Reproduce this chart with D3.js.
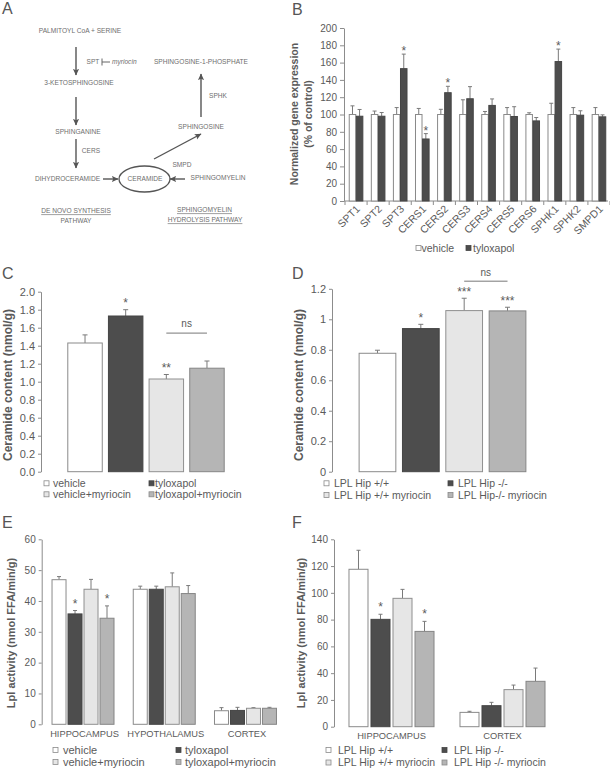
<!DOCTYPE html>
<html><head><meta charset="utf-8">
<script src="https://cdn.jsdelivr.net/npm/d3@7"></script>
<style>
body{margin:0;background:#fff;}
svg{display:block;font-family:"Liberation Sans",Arial,sans-serif;}
</style></head><body>
<svg id="fig" width="610" height="770"></svg>
<script>
// ---------------- DATA ----------------
// Panel B
const genes = ["SPT1","SPT2","SPT3","CERS1","CERS2","CERS3","CERS4","CERS5","CERS6","SPHK1","SPHK2","SMPD1"];
const geneSeries = ["vehicle","tyloxapol"];
const geneVehicle = [100,100,100,100,100,100,100,100,100,100,100,100];
const geneVehicleSem = [10,4,8,7,6,17,3.5,8,2,13,8,8];
const geneTylox = [98,98,153,71.7,125.2,118.2,110.5,97.7,92.6,161.2,99.2,97.3];
const geneTyloxSem = [7.8,4.3,16.8,6.2,7.4,14,7.5,11.3,3.9,14.4,5.1,2.3];
const geneTyloxSig = ["","","*","*","*","","","","","*","",""];
const geneTicks = [0,20,40,60,80,100,120,140,160,180,200];

// Panel C
const cGroups = ["vehicle","tyloxapol","vehicle+myriocin","tyloxapol+myriocin"];
const cMeans = [1.43,1.73,1.03,1.15];
const cSems = [0.09,0.07,0.05,0.08];
const cSig = ["","*","**",""];
const cTicks = [0,0.2,0.4,0.6,0.8,1.0,1.2,1.4,1.6,1.8,2.0];
const cNsLevel = 1.54;

// Panel D
const dGroups = ["LPL Hip +/+","LPL Hip -/-","LPL Hip +/+ myriocin","LPL Hip-/- myriocin"];
const dMeans = [0.777,0.939,1.057,1.055];
const dSems = [0.02,0.028,0.081,0.024];
const dSig = ["","*","***","***"];
const dTicks = [0,0.2,0.4,0.6,0.8,1,1.2];
const dNsLevel = 1.25;

// Panel E
const eRegions = ["HIPPOCAMPUS","HYPOTHALAMUS","CORTEX"];
const eSeries = ["vehicle","tyloxapol","vehicle+myriocin","tyloxapol+myriocin"];
const eVehicle = [46.9,43.8,4.4];         const eVehicleSem = [1.0,1.0,1.0];
const eTylox = [35.8,43.8,4.5];           const eTyloxSem = [1.1,1.0,1.0];
const eVehMyr = [43.8,44.6,5.2];          const eVehMyrSem = [3.2,4.5,0.2];
const eTyloxMyr = [34.4,42.4,5.2];        const eTyloxMyrSem = [4.0,2.6,0.3];
const eTyloxSig = ["*","",""];
const eTyloxMyrSig = ["*","",""];
const eTicks = [0,10,20,30,40,50,60];

// Panel F
const fRegions = ["HIPPOCAMPUS","CORTEX"];
const fSeries = ["LPL Hip +/+","LPL Hip -/-","LPL Hip +/+ myriocin","LPL Hip -/- myriocin"];
const fWT = [117.6,10.7];      const fWTSem = [14.2,0.8];
const fKO = [80.2,15.7];       const fKOSem = [3.8,2.5];
const fWTMyr = [95.9,27.7];    const fWTMyrSem = [6.7,3.4];
const fKOMyr = [71.2,33.9];    const fKOMyrSem = [7.5,9.9];
const fKOSig = ["*",""];
const fKOMyrSig = ["*",""];
const fTicks = [0,20,40,60,80,100,120,140];

// ---------------- STYLE ----------------
const TXT = "#5a5a5a", AX = "#8c8c8c", ERR = "#7a7a7a";
const FILLS = ["#ffffff","#4d4d4d","#e6e6e6","#b5b5b5"];
const STROKES = ["#8a8a8a","#454545","#8f8f8f","#858585"];
const FONT = '"Liberation Sans", Arial, sans-serif';
const svg = d3.select("#fig");

function yAxis(x, y, ticks, fmt, fs, ts){
  const g = svg.append("g").attr("transform",`translate(${x},0)`)
    .call(d3.axisLeft(y).tickValues(ticks).tickFormat(fmt).tickSize(ts).tickSizeOuter(0).tickPadding(3));
  g.attr("font-family",FONT).attr("font-size",fs);
  g.select(".domain").attr("stroke",AX);
  g.selectAll(".tick line").attr("stroke",AX);
  g.selectAll(".tick text").attr("fill",TXT);
  return g;
}
function yLabel(lines, x, yc, fs){
  const t = svg.append("text").attr("transform",`translate(${x},${yc}) rotate(-90)`)
    .attr("text-anchor","middle").attr("font-size",fs).attr("font-weight","bold").attr("fill",TXT);
  lines.forEach((l,i)=>t.append("tspan").attr("x",0).attr("dy",i?fs*1.3:0).text(l));
}
function panelLetter(l,x,y){
  svg.append("text").attr("x",x).attr("y",y).attr("font-size",16).attr("fill","#555").text(l);
}
function bar(x, w, y, mean, sem, i, cap, sig, starOff, starFs){
  const top = y(mean+sem);
  const cx = x + w/2;
  svg.append("line").attr("x1",cx).attr("x2",cx).attr("y1",y(mean)).attr("y2",top).attr("stroke",ERR);
  svg.append("line").attr("x1",cx-cap).attr("x2",cx+cap).attr("y1",top).attr("y2",top).attr("stroke",ERR);
  svg.append("rect").attr("x",x).attr("y",y(mean)).attr("width",w).attr("height",y(0)-y(mean))
    .attr("fill",FILLS[i]).attr("stroke",STROKES[i]).attr("stroke-width",1);
  if(sig){
    svg.append("text").attr("x",cx).attr("y",top-starOff).attr("text-anchor","middle")
      .attr("font-size",starFs).attr("fill",TXT).text(sig);
  }
}
function legend(items, colX, textX, rowY, fs){
  items.forEach((lab,i)=>{
    const c = i%2, r = Math.floor(i/2);
    svg.append("rect").attr("x",colX[c]).attr("y",rowY[r]-2.5).attr("width",5).attr("height",5)
      .attr("fill",FILLS[i]).attr("stroke",STROKES[i===1?1:0]).attr("stroke-width",0.8);
    svg.append("text").attr("x",textX[c]).attr("y",rowY[r]).attr("dy","0.36em")
      .attr("font-size",fs).attr("fill",TXT).text(lab);
  });
}

// ---------------- PANEL A ----------------
(function(){
  const g = svg.append("g").attr("font-size",6.6).attr("fill","#6e6e6e");
  const defs = svg.append("defs");
  defs.append("marker").attr("id","ah").attr("viewBox","0 0 8 8").attr("refX",7).attr("refY",4)
    .attr("markerWidth",7).attr("markerHeight",7).attr("markerUnits","userSpaceOnUse").attr("orient","auto")
    .append("path").attr("d","M0,0.5 L7.5,4 L0,7.5 L1.5,4 Z").attr("fill","#555");
  const labelsA = [
    ["PALMITOYL CoA + SERINE",80,31],["3-KETOSPHINGOSINE",79,83],["SPHINGANINE",78,132],
    ["CERS",91,151],["DIHYDROCERAMIDE",67.5,179],["CERAMIDE",145,179],["SMPD",182,165],
    ["SPHINGOMYELIN",218,178],["SPHINGOSINE",201,127],["SPHK",218,96],
    ["SPHINGOSINE-1-PHOSPHATE",201,62],["SPT",93,62]
  ];
  labelsA.forEach(([t,x,y])=>g.append("text").attr("x",x).attr("y",y).attr("dy","0.35em")
    .attr("text-anchor","middle").text(t));
  g.append("text").attr("x",112).attr("y",62).attr("dy","0.35em").attr("font-style","italic").text("myriocin");
  g.append("line").attr("x1",102).attr("x2",102).attr("y1",58.5).attr("y2",65.5).attr("stroke","#666").attr("stroke-width",1);
  g.append("line").attr("x1",102).attr("x2",110).attr("y1",62).attr("y2",62).attr("stroke","#666").attr("stroke-width",1);
  const under = [["DE NOVO SYNTHESIS",76,211,true],["PATHWAY",76,221,false],
                 ["SPHINGOMYELIN",204.5,210,true],["HYDROLYSIS PATHWAY",205,220,true]];
  under.forEach(([t,x,y,u])=>{
    const tx = g.append("text").attr("x",x).attr("y",y).attr("dy","0.35em").attr("text-anchor","middle").text(t);
    if(u){ const w = tx.node().getComputedTextLength();
      g.append("line").attr("x1",x-w/2).attr("x2",x+w/2).attr("y1",y+3.6).attr("y2",y+3.6).attr("stroke","#777").attr("stroke-width",0.7); }
  });
  const arrows = [[76,47,76,75],[76,97,76,125],[76,139,76,168],[103,179,118,179],[185,179,170,179],
                  [154,159,201,134],[201,117,201,74]];
  arrows.forEach(([x1,y1,x2,y2])=>g.append("line").attr("x1",x1).attr("y1",y1).attr("x2",x2).attr("y2",y2)
    .attr("stroke","#555").attr("stroke-width",1.4).attr("marker-end","url(#ah)"));
  g.append("ellipse").attr("cx",144.5).attr("cy",179).attr("rx",25.5).attr("ry",13)
    .attr("fill","none").attr("stroke","#555").attr("stroke-width",1.3);
  panelLetter("A",2,14);
})();

// ---------------- PANEL B ----------------
(function(){
  const y = d3.scaleLinear().domain([0,200]).range([201,28]);
  const x = d3.scaleBand().domain(genes).range([345,610]).paddingInner(0.384).paddingOuter(0.192);
  const xi = d3.scaleBand().domain(geneSeries).range([0,x.bandwidth()]).paddingInner(0.08);
  yAxis(344, y, geneTicks, d3.format("d"), 10, 4);
  // x baseline + ticks between categories
  svg.append("line").attr("x1",344).attr("x2",608).attr("y1",y(0)).attr("y2",y(0)).attr("stroke",AX);
  const half = (x.step()-x.bandwidth())/2;
  genes.concat(["__end"]).forEach((gname,i)=>{
    const bx = i<genes.length ? x(gname)-half : x(genes[genes.length-1])+x.bandwidth()+half;
    svg.append("line").attr("x1",bx).attr("x2",bx).attr("y1",y(0)).attr("y2",y(0)+4).attr("stroke",AX);
  });
  genes.forEach((gname,k)=>{
    bar(x(gname)+xi("vehicle"), xi.bandwidth(), y, geneVehicle[k], geneVehicleSem[k], 0, 2, "", 0, 12);
    bar(x(gname)+xi("tyloxapol"), xi.bandwidth(), y, geneTylox[k], geneTyloxSem[k], 1, 2, geneTyloxSig[k], -1, 12);
    const cx = x(gname)+x.bandwidth()/2;
    svg.append("text").attr("transform",`translate(${cx+2},${y(0)+6}) rotate(-45)`)
      .attr("text-anchor","end").attr("dy","0.35em").attr("font-size",10.5).attr("fill",TXT).text(gname);
  });
  yLabel(["Normalized gene expression","(% of control)"], 298, 114, 10.5);
  // legend
  svg.append("rect").attr("x",416).attr("y",245.5).attr("width",5).attr("height",5).attr("fill","#fff").attr("stroke","#888").attr("stroke-width",0.8);
  svg.append("text").attr("x",421.5).attr("y",248).attr("dy","0.36em").attr("font-size",10.5).attr("fill",TXT).text("vehicle");
  svg.append("rect").attr("x",466).attr("y",245.5).attr("width",5).attr("height",5).attr("fill",FILLS[1]).attr("stroke",STROKES[1]).attr("stroke-width",0.8);
  svg.append("text").attr("x",473).attr("y",248).attr("dy","0.36em").attr("font-size",10.5).attr("fill",TXT).text("tyloxapol");
  panelLetter("B",292,15);
})();

// ---------------- PANEL C ----------------
(function(){
  const y = d3.scaleLinear().domain([0,2]).range([471.7,291.7]);
  const x = d3.scaleBand().domain(cGroups).range([64.7,227.3]).paddingInner(0.152).paddingOuter(0.076);
  yAxis(41, y, cTicks, d3.format(".1f"), 11, 3);
  cGroups.forEach((gname,i)=>bar(x(gname), x.bandwidth(), y, cMeans[i], cSems[i], i, 2.5, cSig[i], 3, 12));
  const x1 = x(cGroups[2])+x.bandwidth()/2, x2 = x(cGroups[3])+x.bandwidth()/2;
  svg.append("line").attr("x1",x1).attr("x2",x2).attr("y1",y(cNsLevel)).attr("y2",y(cNsLevel)).attr("stroke","#777");
  svg.append("text").attr("x",(x1+x2)/2).attr("y",y(cNsLevel)-6).attr("text-anchor","middle").attr("font-size",10).attr("fill",TXT).text("ns");
  yLabel(["Ceramide content (nmol/g)"], 12, 385, 12);
  legend(cGroups, [44,149], [53,155], [483.3,494.3], 10.5);
  panelLetter("C",2,279);
})();

// ---------------- PANEL D ----------------
(function(){
  const y = d3.scaleLinear().domain([0,1.2]).range([471.7,288.8]);
  const x = d3.scaleBand().domain(dGroups).range([355.8,529.2]).paddingInner(0.153).paddingOuter(0.0765);
  yAxis(332, y, dTicks, d3.format(".1~f"), 11, 3);
  dGroups.forEach((gname,i)=>bar(x(gname), x.bandwidth(), y, dMeans[i], dSems[i], i, 2.5, dSig[i], 2, 12));
  const x1 = x(dGroups[2])+x.bandwidth()/2, x2 = x(dGroups[3])+x.bandwidth()/2;
  svg.append("line").attr("x1",x1).attr("x2",x2).attr("y1",y(dNsLevel)).attr("y2",y(dNsLevel)).attr("stroke","#777");
  svg.append("text").attr("x",(x1+x2)/2).attr("y",y(dNsLevel)-5).attr("text-anchor","middle").attr("font-size",10).attr("fill",TXT).text("ns");
  yLabel(["Ceramide content (nmol/g)"], 303, 385, 12);
  legend(dGroups, [324,448], [334,458], [483.3,495], 10.5);
  panelLetter("D",292,279);
})();

// ---------------- PANEL E ----------------
(function(){
  const y = d3.scaleLinear().domain([0,60]).range([724.3,539.3]);
  const x = d3.scaleBand().domain(eRegions).range([42.4,286.1]).paddingInner(0.237).paddingOuter(0.1185);
  const xi = d3.scaleBand().domain(eSeries).range([0,x.bandwidth()]).paddingInner(0.125);
  yAxis(41.7, y, eTicks, d3.format("d"), 10, 3);
  const vals = [eVehicle,eTylox,eVehMyr,eTyloxMyr], sems = [eVehicleSem,eTyloxSem,eVehMyrSem,eTyloxMyrSem];
  const sigs = [["","",""],eTyloxSig,["","",""],eTyloxMyrSig];
  eRegions.forEach((r,k)=>{
    eSeries.forEach((s,i)=>bar(x(r)+xi(s), xi.bandwidth(), y, vals[i][k], sems[i][k], i, 2, sigs[i][k], 3, 12));
    svg.append("text").attr("x",x(r)+x.bandwidth()/2+1.5).attr("y",734).attr("dy","0.36em")
      .attr("text-anchor","middle").attr("font-size",9.3).attr("fill",TXT).text(r);
  });
  yLabel(["Lpl activity (nmol FFA/min/g)"], 15, 633, 11);
  legend(eSeries, [53,176], [63,185], [750,762], 11);
  panelLetter("E",2,528);
})();

// ---------------- PANEL F ----------------
(function(){
  const y = d3.scaleLinear().domain([0,140]).range([726.7,539.3]);
  const x = d3.scaleBand().domain(fRegions).range([336,558]).paddingInner(0.234).paddingOuter(0.117);
  const xi = d3.scaleBand().domain(fSeries).range([0,x.bandwidth()]).paddingInner(0.136);
  yAxis(334, y, fTicks, d3.format("d"), 10, 3);
  const vals = [fWT,fKO,fWTMyr,fKOMyr], sems = [fWTSem,fKOSem,fWTMyrSem,fKOMyrSem];
  const sigs = [["",""],fKOSig,["",""],fKOMyrSig];
  fRegions.forEach((r,k)=>{
    fSeries.forEach((s,i)=>bar(x(r)+xi(s), xi.bandwidth(), y, vals[i][k], sems[i][k], i, 2, sigs[i][k], 3, 12));
    svg.append("text").attr("x",x(r)+x.bandwidth()/2).attr("y",736).attr("dy","0.36em")
      .attr("text-anchor","middle").attr("font-size",9.3).attr("fill",TXT).text(r);
  });
  yLabel(["Lpl activity (nmol FFA/min/g)"], 305, 633, 11);
  legend(fSeries, [326,442], [338,454], [750,762.5], 10.5);
  panelLetter("F",292,528);
})();
</script>
</body></html>
